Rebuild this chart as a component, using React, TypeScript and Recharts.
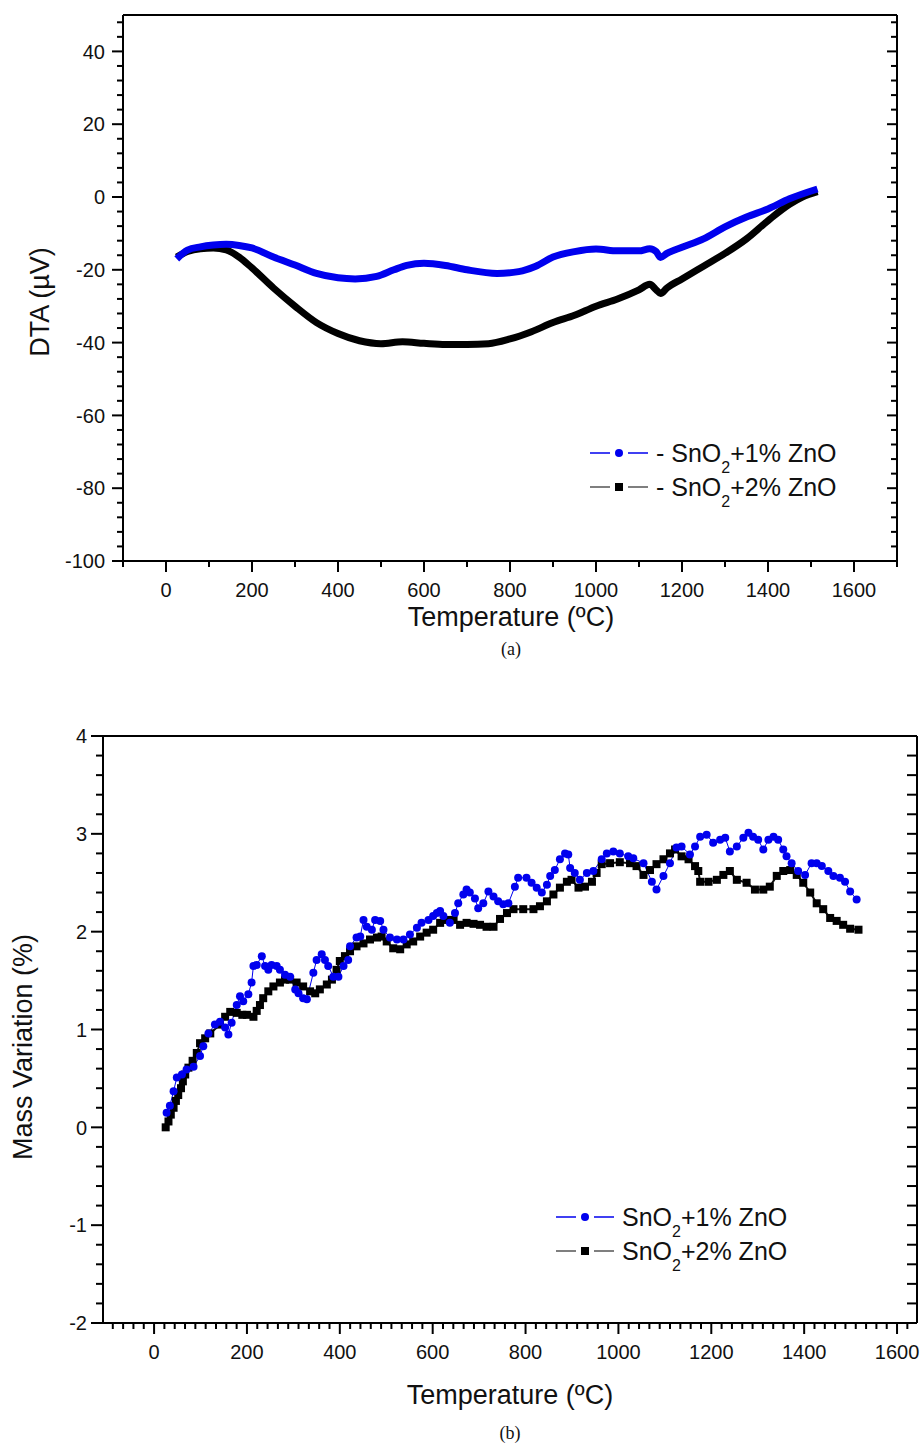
import React from "react";
import { LineChart, Line, XAxis, YAxis } from "recharts";

// (a) DTA curves
const dtaTemp1 = [25, 50, 80, 110, 140, 170, 200, 250, 300, 350, 400, 440, 490, 530, 560, 600, 650, 700, 770, 820, 860, 900, 950, 1000, 1050, 1100, 1125, 1140, 1150, 1165, 1200, 1250, 1300, 1350, 1400, 1450, 1515];
const dtaVal1 = [-17, -14.6, -13.7, -13.2, -13, -13.3, -14, -16.5, -18.7, -21, -22.2, -22.5, -21.8, -20, -18.8, -18.2, -18.8, -20, -21, -20.5, -19, -16.5, -15, -14.3, -14.8, -14.8, -14.2, -15, -16.6, -15.5, -13.8, -11.5, -8.2, -5.5, -3.3, -0.5, 2.2];
const dtaTemp2 = [25, 50, 80, 110, 140, 170, 200, 250, 300, 350, 400, 450, 500, 550, 600, 650, 700, 750, 800, 850, 900, 950, 1000, 1050, 1100, 1125, 1140, 1150, 1165, 1200, 1250, 1300, 1350, 1400, 1450, 1480, 1515];
const dtaVal2 = [-16.5, -15, -14.2, -14, -14.5, -16.5, -19.5, -25, -30, -34.5, -37.5, -39.5, -40.3, -39.8, -40.2, -40.5, -40.5, -40.3, -39, -37, -34.5, -32.5, -30, -28, -25.5, -24, -25.5, -26.5, -25, -22.5, -19, -15.5, -11.5, -6.5, -2, 0, 1.5];

// (b) mass variation
const massTemp1 = [27, 34, 42, 49, 60, 70, 85, 99, 106, 117, 131, 142, 153, 160, 167, 178, 185, 192, 203, 210, 214, 221, 232, 239, 246, 253, 264, 271, 282, 293, 304, 311, 321, 329, 343, 350, 361, 368, 375, 386, 397, 408, 418, 422, 436, 444, 451, 458, 469, 476, 487, 494, 508, 523, 537, 551, 566, 576, 591, 601, 609, 616, 623, 637, 648, 655, 666, 673, 680, 691, 698, 709, 720, 731, 741, 752, 763, 777, 784, 802, 813, 824, 835, 846, 853, 863, 874, 885, 892, 896, 906, 917, 932, 946, 964, 975, 989, 1003, 1021, 1032, 1054, 1072, 1082, 1097, 1111, 1125, 1136, 1154, 1165, 1176, 1190, 1204, 1219, 1230, 1240, 1255, 1269, 1280, 1290, 1301, 1312, 1323, 1334, 1344, 1355, 1362, 1373, 1387, 1402, 1416, 1427, 1438, 1452, 1463, 1477, 1488, 1499, 1513];
const massVal1 = [0.15, 0.22, 0.37, 0.51, 0.54, 0.59, 0.62, 0.73, 0.83, 0.96, 1.05, 1.08, 1.02, 0.95, 1.07, 1.25, 1.34, 1.29, 1.36, 1.48, 1.65, 1.66, 1.75, 1.65, 1.61, 1.66, 1.65, 1.61, 1.56, 1.54, 1.41, 1.37, 1.32, 1.31, 1.58, 1.71, 1.77, 1.71, 1.65, 1.54, 1.54, 1.65, 1.71, 1.85, 1.94, 1.95, 2.12, 2.05, 2.02, 2.12, 2.11, 2.02, 1.94, 1.92, 1.92, 1.97, 2.04, 2.09, 2.12, 2.16, 2.19, 2.21, 2.16, 2.09, 2.19, 2.29, 2.38, 2.43, 2.4, 2.34, 2.24, 2.29, 2.41, 2.36, 2.31, 2.28, 2.29, 2.46, 2.55, 2.55, 2.5, 2.45, 2.4, 2.48, 2.57, 2.63, 2.74, 2.8, 2.79, 2.65, 2.6, 2.53, 2.6, 2.62, 2.74, 2.8, 2.82, 2.8, 2.77, 2.75, 2.7, 2.51, 2.43, 2.57, 2.7, 2.86, 2.87, 2.79, 2.87, 2.97, 2.99, 2.91, 2.94, 2.96, 2.82, 2.87, 2.96, 3.01, 2.97, 2.94, 2.84, 2.94, 2.97, 2.94, 2.84, 2.77, 2.7, 2.62, 2.58, 2.7, 2.7, 2.67, 2.62, 2.57, 2.55, 2.51, 2.41, 2.33];
const massTemp2 = [25, 31, 36, 42, 47, 52, 58, 62, 67, 74, 83, 92, 99, 110, 121, 142, 153, 164, 178, 190, 200, 214, 221, 228, 235, 246, 257, 271, 282, 293, 307, 321, 336, 347, 357, 372, 383, 393, 400, 411, 422, 436, 451, 465, 480, 490, 501, 515, 530, 544, 558, 573, 587, 601, 616, 630, 645, 659, 673, 688, 702, 716, 731, 745, 760, 774, 795, 817, 831, 846, 860, 874, 889, 899, 914, 928, 943, 953, 964, 982, 1003, 1025, 1039, 1054, 1068, 1082, 1097, 1111, 1122, 1136, 1151, 1165, 1172, 1176, 1194, 1212, 1226, 1240, 1255, 1276, 1294, 1312, 1326, 1341, 1355, 1370, 1384, 1398, 1413, 1427, 1441, 1456, 1470, 1484, 1499, 1517];
const massVal2 = [0, 0.06, 0.13, 0.2, 0.27, 0.33, 0.4, 0.47, 0.54, 0.61, 0.68, 0.76, 0.86, 0.91, 0.96, 1.05, 1.13, 1.18, 1.17, 1.15, 1.15, 1.13, 1.19, 1.25, 1.32, 1.39, 1.44, 1.48, 1.51, 1.51, 1.48, 1.44, 1.39, 1.37, 1.41, 1.46, 1.51, 1.61, 1.7, 1.75, 1.8, 1.85, 1.88, 1.92, 1.94, 1.95, 1.9, 1.83, 1.82, 1.87, 1.9, 1.95, 1.99, 2.02, 2.09, 2.12, 2.12, 2.07, 2.09, 2.08, 2.07, 2.05, 2.05, 2.13, 2.19, 2.23, 2.23, 2.23, 2.26, 2.31, 2.38, 2.45, 2.51, 2.53, 2.45, 2.46, 2.51, 2.6, 2.69, 2.7, 2.71, 2.7, 2.67, 2.58, 2.63, 2.69, 2.74, 2.8, 2.84, 2.77, 2.74, 2.67, 2.62, 2.51, 2.51, 2.53, 2.58, 2.62, 2.53, 2.5, 2.43, 2.43, 2.46, 2.57, 2.62, 2.63, 2.58, 2.5, 2.4, 2.29, 2.23, 2.14, 2.11, 2.07, 2.03, 2.02];

// labelled ticks
const tempLabels = [0, 200, 400, 600, 800, 1000, 1200, 1400, 1600];
const dtaLabels = [-100, -80, -60, -40, -20, 0, 20, 40];
const massLabels = [-2, -1, 0, 1, 2, 3, 4];

const range = (start: number, end: number, step: number) => {
  const out: number[] = [];
  for (let k = 0; start + k * step <= end + 1e-9; k++) out.push(Math.round((start + k * step) * 1000) / 1000);
  return out;
};

const dtaXTicks = range(-100, 1700, 100);
const dtaYTicks = range(-100, 50, 4);
const massXTicks = range(-800 / 9, 1643, 200 / 9);
const massYTicks = range(-2, 4, 0.2);

const zip = (xs: number[], ys: number[]) => xs.map((t, i) => ({ t, v: ys[i] }));

const BLUE = "#0000ee";
const FONT = "'Liberation Sans', Arial, sans-serif";

const isMajor = (v: number, majors: number[]) => majors.some((m) => Math.abs(m - v) < 1e-3);

function Tick(props: any) {
  const { x, y, payload, side, majors, labelled, majorLen, minorLen, gap } = props;
  const major = isMajor(payload.value, majors);
  const len = major ? majorLen : minorLen;
  let x2 = x, y2 = y;
  if (side === "bottom" || side === "top") y2 = y + len;
  else x2 = x - len;
  let label = null;
  if (labelled && major) {
    label =
      side === "bottom" ? (
        <text x={x} y={y + 36} textAnchor="middle" fontSize={20} fontFamily={FONT} fill="#111">{payload.value}</text>
      ) : (
        <text x={x - gap} y={y} dy="0.36em" textAnchor="end" fontSize={20} fontFamily={FONT} fill="#111">{payload.value}</text>
      );
  }
  return (
    <g>
      <line x1={x} y1={y} x2={x2} y2={y2} stroke="#000" strokeWidth={2} />
      {label}
    </g>
  );
}

const axisLine = { stroke: "#000", strokeWidth: 2 };

function Square(props: any) {
  const { cx, cy } = props;
  if (cx == null || cy == null) return null;
  return <rect x={cx - 4} y={cy - 4} width={8} height={8} fill="#000" />;
}

function LegendRow({ color, lineColor, square, dash, text }: { color: string; lineColor: string; square?: boolean; dash?: boolean; text: string }) {
  return (
    <div style={{ display: "flex", alignItems: "center", height: 34 }}>
      <svg width={62} height={14} style={{ marginRight: 6 }}>
        <line x1={2} y1={7} x2={22} y2={7} stroke={lineColor} strokeWidth={1.5} />
        {square ? <rect x={27} y={3} width={8} height={8} fill={color} /> : <circle cx={31} cy={7} r={4} fill={color} />}
        <line x1={40} y1={7} x2={60} y2={7} stroke={lineColor} strokeWidth={1.5} />
      </svg>
      <span style={{ fontSize: 25, fontFamily: FONT, color: "#111", whiteSpace: "nowrap" }}>
        {dash ? "- " : ""}SnO<span style={{ fontSize: 16, position: "relative", top: 11 }}>2</span>{text}
      </span>
    </div>
  );
}

const textAbs = (left: number, top: number, rotate = false): React.CSSProperties => ({
  position: "absolute",
  left,
  top,
  transform: `translate(-50%, -50%)${rotate ? " rotate(-90deg)" : ""}`,
  whiteSpace: "nowrap",
  fontFamily: FONT,
  fontSize: 27,
  color: "#111",
});

export default function App() {
  const dta1 = zip(dtaTemp1, dtaVal1);
  const dta2 = zip(dtaTemp2, dtaVal2);
  const mass1 = zip(massTemp1, massVal1);
  const mass2 = zip(massTemp2, massVal2);

  return (
    <div style={{ position: "absolute", left: 0, top: 0, width: 922, height: 1447, background: "#fff", overflow: "hidden" }}>
      {/* (a) */}
      <div style={{ position: "absolute", left: 0, top: 0 }}>
        <LineChart width={922} height={600} margin={{ top: 13, right: 23, bottom: 9, left: 63 }}>
          <XAxis type="number" dataKey="t" domain={[-100, 1700]} ticks={dtaXTicks} interval={0} height={30} tickSize={0} tickMargin={0} axisLine={axisLine} tickLine={false} allowDataOverflow
            tick={(p: any) => <Tick {...p} side="bottom" majors={tempLabels} labelled majorLen={11} minorLen={6} />} />
          <XAxis xAxisId="top" orientation="top" type="number" domain={[-100, 1700]} ticks={dtaXTicks} interval={0} height={2} tickSize={0} tickMargin={0} axisLine={axisLine} tickLine={false} allowDataOverflow
            tick={(p: any) => <Tick {...p} side="top" majors={tempLabels} majorLen={10} minorLen={10} />} />
          <YAxis type="number" domain={[-100, 50]} ticks={dtaYTicks} interval={0} width={60} tickSize={0} tickMargin={0} axisLine={axisLine} tickLine={false} allowDataOverflow
            tick={(p: any) => <Tick {...p} side="left" majors={dtaLabels} labelled majorLen={11} minorLen={6} gap={18} />} />
          <YAxis yAxisId="right" orientation="right" type="number" domain={[-100, 50]} ticks={dtaYTicks} interval={0} width={2} tickSize={0} tickMargin={0} axisLine={axisLine} tickLine={false} allowDataOverflow
            tick={(p: any) => <Tick {...p} side="right" majors={dtaLabels} majorLen={10} minorLen={6} />} />
          <Line data={dta2} dataKey="v" type="monotone" stroke="#000" strokeWidth={7} dot={false} isAnimationActive={false} />
          <Line data={dta1} dataKey="v" type="monotone" stroke={BLUE} strokeWidth={7} dot={false} isAnimationActive={false} />
        </LineChart>
      </div>
      <div style={textAbs(40, 302, true)}>DTA (µV)</div>
      <div style={textAbs(511, 617)}>Temperature (ºC)</div>
      <div style={{ ...textAbs(511, 649), fontFamily: "'Liberation Serif', serif", fontSize: 18 }}>(a)</div>
      <div style={{ position: "absolute", left: 588, top: 436 }}>
        <LegendRow color={BLUE} lineColor={BLUE} dash text="+1% ZnO" />
        <LegendRow color="#000" lineColor="#555" square dash text="+2% ZnO" />
      </div>

      {/* (b) */}
      <div style={{ position: "absolute", left: 0, top: 700 }}>
        <LineChart width={922} height={747} margin={{ top: 34, right: 3, bottom: 94, left: 43 }}>
          <XAxis type="number" dataKey="t" domain={[-110, 1643]} ticks={massXTicks} interval={0} height={30} tickSize={0} tickMargin={0} axisLine={axisLine} tickLine={false} allowDataOverflow
            tick={(p: any) => <Tick {...p} side="bottom" majors={tempLabels} labelled majorLen={11} minorLen={6} />} />
          <XAxis xAxisId="top" orientation="top" type="number" domain={[-110, 1643]} ticks={massXTicks} interval={0} height={2} tickSize={0} tickMargin={0} axisLine={axisLine} tickLine={false} allowDataOverflow
            tick={(p: any) => <Tick {...p} side="top" majors={tempLabels} majorLen={11} minorLen={6} />} />
          <YAxis type="number" domain={[-2, 4]} ticks={massYTicks} interval={0} width={60} tickSize={0} tickMargin={0} axisLine={axisLine} tickLine={false} allowDataOverflow
            tick={(p: any) => <Tick {...p} side="left" majors={massLabels} labelled majorLen={12} minorLen={7} gap={16} />} />
          <YAxis yAxisId="right" orientation="right" type="number" domain={[-2, 4]} ticks={massYTicks} interval={0} width={2} tickSize={0} tickMargin={0} axisLine={axisLine} tickLine={false} allowDataOverflow
            tick={(p: any) => <Tick {...p} side="right" majors={massLabels} majorLen={10} minorLen={10} />} />
          <Line data={mass2} dataKey="v" type="linear" stroke="#111" strokeWidth={2} dot={<Square />} isAnimationActive={false} />
          <Line data={mass1} dataKey="v" type="linear" stroke={BLUE} strokeWidth={1} dot={{ r: 4, fill: BLUE, stroke: BLUE, strokeWidth: 0 }} isAnimationActive={false} />
        </LineChart>
      </div>
      <div style={textAbs(23, 1047, true)}>Mass Variation (%)</div>
      <div style={textAbs(510, 1395)}>Temperature (ºC)</div>
      <div style={{ ...textAbs(510, 1433), fontFamily: "'Liberation Serif', serif", fontSize: 18 }}>(b)</div>
      <div style={{ position: "absolute", left: 554, top: 1200 }}>
        <LegendRow color={BLUE} lineColor={BLUE} text="+1% ZnO" />
        <LegendRow color="#000" lineColor="#555" square text="+2% ZnO" />
      </div>
    </div>
  );
}
